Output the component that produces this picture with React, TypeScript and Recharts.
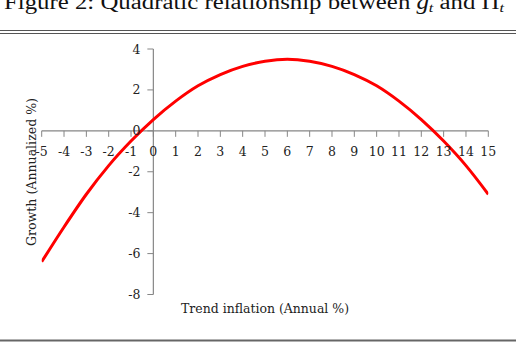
import { LineChart, Line, XAxis, YAxis, ReferenceLine } from "recharts";

// trend inflation (x) vs growth (y)
const INFLATION = [-5, -4, -3, -2, -1, 0, 1, 2, 3, 4, 5, 6, 7, 8, 9, 10, 11, 12, 13, 14, 15];
const GROWTH = [-6.4, -4.7, -3.1, -1.7, -0.5, 0.55, 1.45, 2.2, 2.75, 3.15, 3.4, 3.5, 3.4, 3.15, 2.75, 2.2, 1.45, 0.55, -0.5, -1.7, -3.1];
const X_TICKS = [-5, -4, -3, -2, -1, 0, 1, 2, 3, 4, 5, 6, 7, 8, 9, 10, 11, 12, 13, 14, 15];
const Y_TICKS = [-8, -6, -4, -2, 0, 2, 4];

const data = INFLATION.map((x, i) => ({ x, g: GROWTH[i] }));

const W = 520;
const H = 342;
// plot box: x 42..488, y 49..294.5
const PLOT = { top: 49, right: 31.7, bottom: 47.5, left: 41.7 };
const AX_H = 20;
const AX_W = 20;
const PW = W - PLOT.left - PLOT.right;
const PH = H - PLOT.top - PLOT.bottom;
// where the axes cross (data 0,0)
const ZERO_X = PLOT.left + (PW * (0 - X_TICKS[0])) / (X_TICKS[X_TICKS.length - 1] - X_TICKS[0]);
const ZERO_Y = PLOT.top + (PH * (Y_TICKS[Y_TICKS.length - 1] - 0)) / (Y_TICKS[Y_TICKS.length - 1] - Y_TICKS[0]);

const AXIS = "#868686";
const TXT = "#222";
const TICK_FONT = "'DejaVu Serif', serif";
const LABEL_FONT = "'DejaVu Serif Condensed', 'DejaVu Serif', serif";
const TITLE_FONT = "'Liberation Serif', serif";

const renderXTick = (props: any) => {
  const { x, payload } = props;
  return (
    <g>
      <line x1={x} x2={x} y1={ZERO_Y} y2={ZERO_Y + 6} stroke={AXIS} />
      <text x={x} y={ZERO_Y + 25} textAnchor="middle" fontSize={12.5} fontFamily={TICK_FONT} fill={TXT}>
        {payload.value}
      </text>
    </g>
  );
};

const renderYTick = (props: any) => {
  const { y, payload } = props;
  return (
    <g>
      <line x1={ZERO_X - 6} x2={ZERO_X} y1={y} y2={y} stroke={AXIS} />
      <text x={ZERO_X - 13} y={y + 4.5} textAnchor="end" fontSize={12.5} fontFamily={TICK_FONT} fill={TXT}>
        {payload.value}
      </text>
    </g>
  );
};

export default function App() {
  return (
    <div style={{ position: "absolute", left: 0, top: 0, width: W, height: H, background: "#fff" }}>
      <svg width={W} height={H} style={{ position: "absolute", left: 0, top: 0 }}>
        <text x={4} y={9} fontSize={20} fontFamily={TITLE_FONT} textLength={500} lengthAdjust="spacingAndGlyphs" fill="#111">
          Figure 2: Quadratic relationship between <tspan fontStyle="italic">g</tspan>
          <tspan fontStyle="italic" fontSize={13} dy={3}>t</tspan>
          <tspan dy={-3}> and Π</tspan>
          <tspan fontStyle="italic" fontSize={13} dy={3}>t</tspan>
        </text>
        <line x1={0} x2={516} y1={30.5} y2={30.5} stroke="#555" strokeWidth={1} />
        <line x1={0} x2={516} y1={33.5} y2={33.5} stroke="#555" strokeWidth={1} />
        <line x1={0} x2={516} y1={340.5} y2={340.5} stroke="#666" strokeWidth={2} />
        <text
          x={181}
          y={312.5}
          fontSize={13.5}
          fontFamily={LABEL_FONT}
          fill="#222"
          textLength={168}
          lengthAdjust="spacingAndGlyphs"
        >
          Trend inflation (Annual %)
        </text>
        <text
          transform="translate(36,172) rotate(-90)"
          textAnchor="middle"
          fontSize={13.5}
          fontFamily={LABEL_FONT}
          fill="#222"
          textLength={148}
          lengthAdjust="spacingAndGlyphs"
        >
          Growth (Annualized %)
        </text>
      </svg>
      <div style={{ position: "absolute", left: 0, top: 0 }}>
        <LineChart
          width={W}
          height={H}
          data={data}
          margin={{ top: PLOT.top, right: PLOT.right, bottom: PLOT.bottom - AX_H, left: PLOT.left - AX_W }}
        >
          <XAxis
            type="number"
            dataKey="x"
            domain={[X_TICKS[0], X_TICKS[X_TICKS.length - 1]]}
            ticks={X_TICKS}
            interval={0}
            height={AX_H}
            axisLine={false}
            tickLine={false}
            tick={renderXTick}
            allowDataOverflow
          />
          <YAxis
            type="number"
            domain={[Y_TICKS[0], Y_TICKS[Y_TICKS.length - 1]]}
            ticks={Y_TICKS}
            interval={0}
            width={AX_W}
            axisLine={false}
            tickLine={false}
            tick={renderYTick}
            allowDataOverflow
          />
          <ReferenceLine y={0} stroke={AXIS} strokeWidth={1.2} />
          <ReferenceLine x={0} stroke={AXIS} strokeWidth={1.2} />
          <Line
            type="monotone"
            dataKey="g"
            stroke="#ff0000"
            strokeWidth={3}
            dot={false}
            isAnimationActive={false}
          />
        </LineChart>
      </div>
    </div>
  );
}
